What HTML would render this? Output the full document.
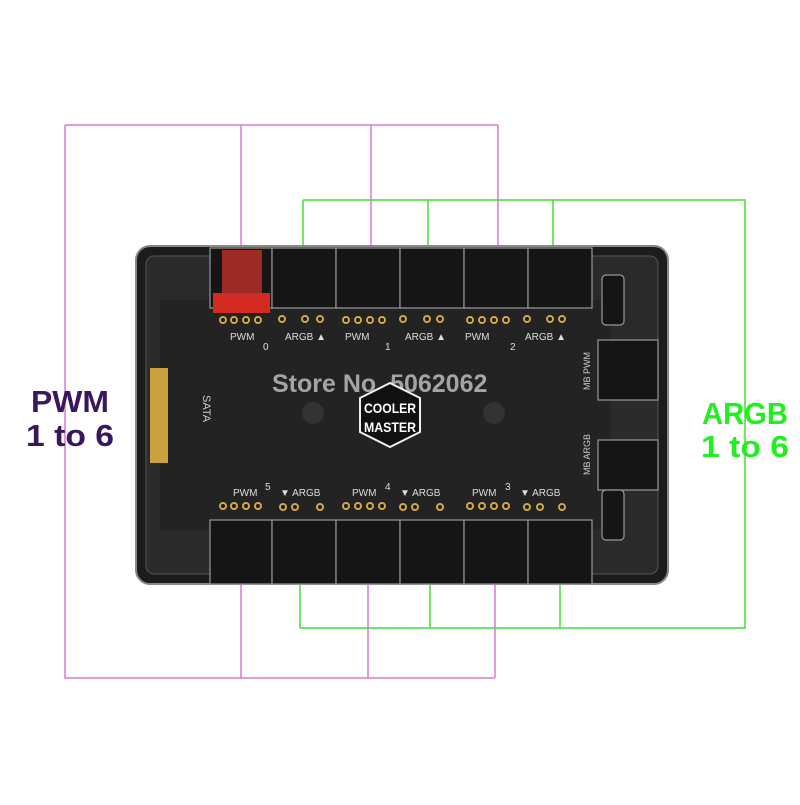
<!DOCTYPE html>
<html><head><style>
body{margin:0;background:#fff;width:800px;height:800px;overflow:hidden;font-family:"Liberation Sans",sans-serif}
</style></head><body>
<svg width="800" height="800" xmlns="http://www.w3.org/2000/svg" font-family="Liberation Sans, sans-serif">
<rect width="800" height="800" fill="#fff"/>
<g stroke="#d77ad7" stroke-width="1.5" fill="none">
<path d="M65 125H498M65 125V678H495M241 125V250M371 125V250M498 125V250M241 585V678M368 585V678M495 585V678"/>
</g>
<g stroke="#44dd33" stroke-width="1.5" fill="none">
<path d="M303 200H745V628H300M303 200V250M428 200V250M553 200V250M300 585V628M430 585V628M560 585V628"/>
</g>
<rect x="136" y="246" width="532" height="338" rx="14" fill="#1c1c1c" stroke="#888" stroke-width="2"/>
<rect x="146" y="256" width="512" height="318" rx="8" fill="#2a2a2a" stroke="#555"/>
<rect x="160" y="300" width="450" height="230" fill="#232323"/>
<g fill="#151515" stroke="#999" stroke-width="1.2">
<rect x="210" y="248" width="62" height="60"/><rect x="272" y="248" width="64" height="60"/>
<rect x="336" y="248" width="64" height="60"/><rect x="400" y="248" width="64" height="60"/>
<rect x="464" y="248" width="64" height="60"/><rect x="528" y="248" width="64" height="60"/>
<rect x="210" y="520" width="62" height="64"/><rect x="272" y="520" width="64" height="64"/>
<rect x="336" y="520" width="64" height="64"/><rect x="400" y="520" width="64" height="64"/>
<rect x="464" y="520" width="64" height="64"/><rect x="528" y="520" width="64" height="64"/>
<rect x="598" y="340" width="60" height="60"/><rect x="598" y="440" width="60" height="50"/>
<rect x="602" y="275" width="22" height="50" rx="4"/><rect x="602" y="490" width="22" height="50" rx="4"/>
</g>
<rect x="213" y="293" width="57" height="20" fill="#d42a20"/>
<rect x="222" y="250" width="40" height="45" fill="#c0302a" opacity=".8"/>
<g fill="#1a1a1a" stroke="#d4a84a" stroke-width="2">
<circle cx="223" cy="320" r="3"/><circle cx="234" cy="320" r="3"/><circle cx="246" cy="320" r="3"/><circle cx="258" cy="320" r="3"/>
<circle cx="282" cy="319" r="3"/><circle cx="305" cy="319" r="3"/><circle cx="320" cy="319" r="3"/>
<circle cx="346" cy="320" r="3"/><circle cx="358" cy="320" r="3"/><circle cx="370" cy="320" r="3"/><circle cx="382" cy="320" r="3"/>
<circle cx="403" cy="319" r="3"/><circle cx="427" cy="319" r="3"/><circle cx="440" cy="319" r="3"/>
<circle cx="470" cy="320" r="3"/><circle cx="482" cy="320" r="3"/><circle cx="494" cy="320" r="3"/><circle cx="506" cy="320" r="3"/>
<circle cx="527" cy="319" r="3"/><circle cx="550" cy="319" r="3"/><circle cx="562" cy="319" r="3"/>
<circle cx="223" cy="506" r="3"/><circle cx="234" cy="506" r="3"/><circle cx="246" cy="506" r="3"/><circle cx="258" cy="506" r="3"/>
<circle cx="283" cy="507" r="3"/><circle cx="295" cy="507" r="3"/><circle cx="320" cy="507" r="3"/>
<circle cx="346" cy="506" r="3"/><circle cx="358" cy="506" r="3"/><circle cx="370" cy="506" r="3"/><circle cx="382" cy="506" r="3"/>
<circle cx="403" cy="507" r="3"/><circle cx="415" cy="507" r="3"/><circle cx="440" cy="507" r="3"/>
<circle cx="470" cy="506" r="3"/><circle cx="482" cy="506" r="3"/><circle cx="494" cy="506" r="3"/><circle cx="506" cy="506" r="3"/>
<circle cx="527" cy="507" r="3"/><circle cx="540" cy="507" r="3"/><circle cx="562" cy="507" r="3"/>
</g>
<rect x="150" y="368" width="18" height="95" fill="#c9a13e"/>
<g fill="#ddd" font-size="10">
<text x="230" y="340">PWM</text><text x="285" y="340">ARGB ▲</text><text x="263" y="350">0</text>
<text x="345" y="340">PWM</text><text x="405" y="340">ARGB ▲</text><text x="385" y="350">1</text>
<text x="465" y="340">PWM</text><text x="525" y="340">ARGB ▲</text><text x="510" y="350">2</text>
<text x="233" y="496">PWM</text><text x="280" y="496">▼ ARGB</text><text x="265" y="490">5</text>
<text x="352" y="496">PWM</text><text x="400" y="496">▼ ARGB</text><text x="385" y="490">4</text>
<text x="472" y="496">PWM</text><text x="520" y="496">▼ ARGB</text><text x="505" y="490">3</text>
</g>
<text x="0" y="0" fill="#ccc" font-size="11" transform="translate(203,395) rotate(90)">SATA</text>
<text x="0" y="0" fill="#ccc" font-size="9" transform="translate(590,390) rotate(-90)">MB PWM</text>
<text x="0" y="0" fill="#ccc" font-size="9" transform="translate(590,475) rotate(-90)">MB ARGB</text>
<circle cx="313" cy="413" r="11" fill="#333"/><circle cx="494" cy="413" r="11" fill="#333"/>
<text x="272" y="392" fill="#bbb" fill-opacity=".85" font-size="25" font-weight="bold">Store No. 5062062</text>
<polygon points="360,398 390,383 420,398 420,432 390,447 360,432" fill="#111" stroke="#eee" stroke-width="2"/>
<text x="390" y="413" fill="#fff" font-size="14" font-weight="bold" text-anchor="middle" textLength="52" lengthAdjust="spacingAndGlyphs">COOLER</text>
<text x="390" y="432" fill="#fff" font-size="14" font-weight="bold" text-anchor="middle" textLength="52" lengthAdjust="spacingAndGlyphs">MASTER</text>
<text x="70" y="412" fill="#3a1660" font-size="31" font-weight="bold" text-anchor="middle" textLength="78" lengthAdjust="spacingAndGlyphs">PWM</text>
<text x="70" y="446" fill="#3a1660" font-size="31" font-weight="bold" text-anchor="middle" textLength="88" lengthAdjust="spacingAndGlyphs">1 to 6</text>
<text x="745" y="424" fill="#22ee22" font-size="31" font-weight="bold" text-anchor="middle" textLength="86" lengthAdjust="spacingAndGlyphs">ARGB</text>
<text x="745" y="457" fill="#22ee22" font-size="31" font-weight="bold" text-anchor="middle" textLength="88" lengthAdjust="spacingAndGlyphs">1 to 6</text>
</svg>
</body></html>
